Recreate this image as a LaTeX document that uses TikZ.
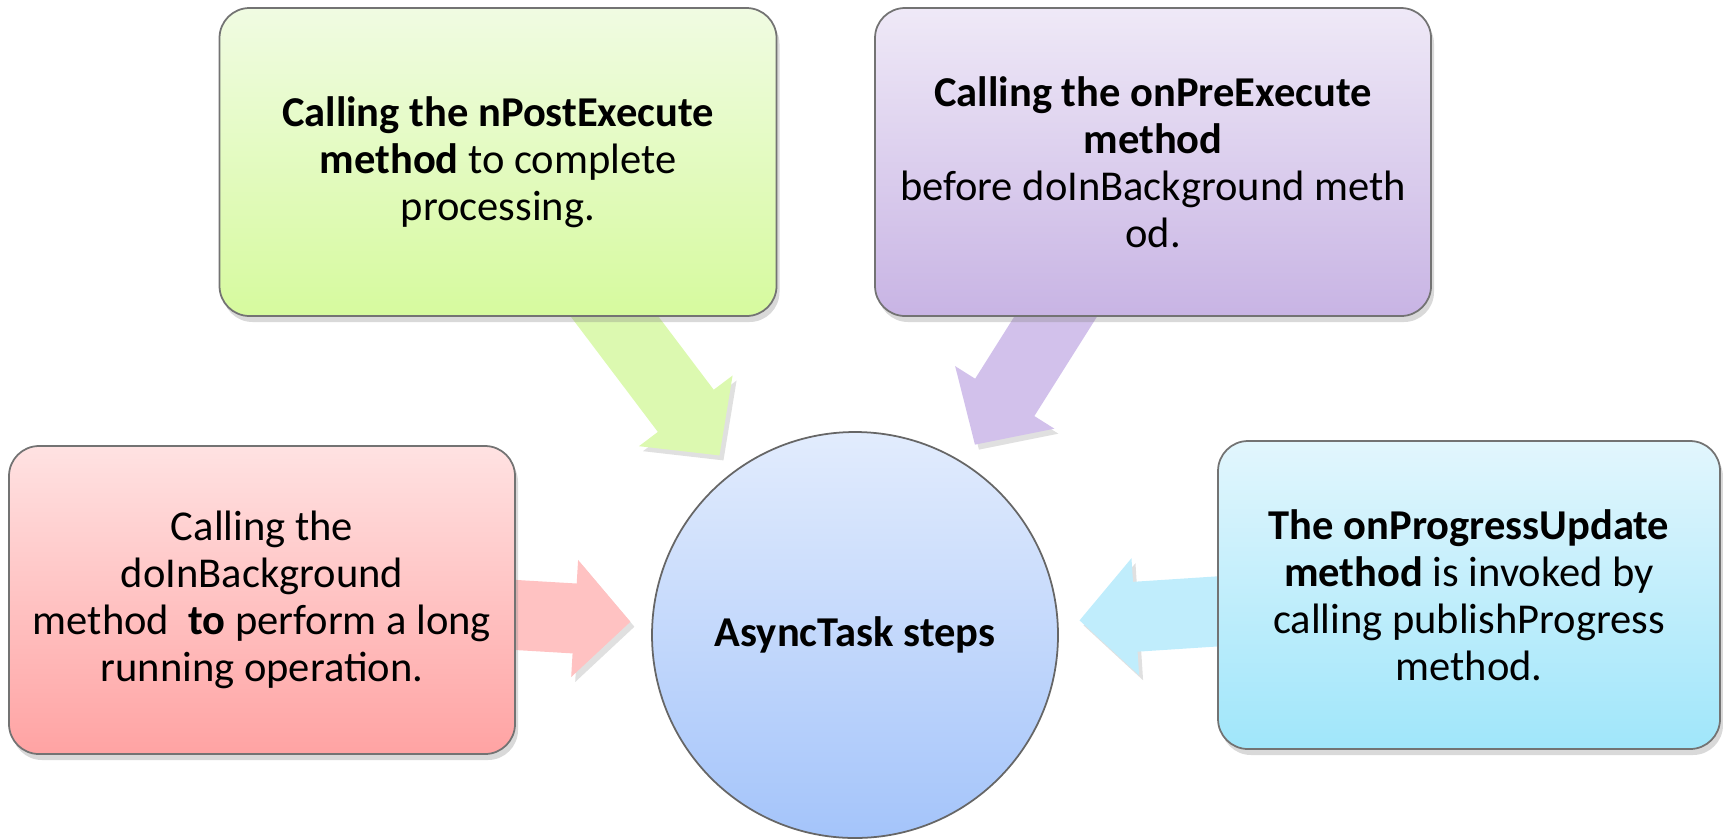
\documentclass[tikz,border=0pt]{standalone}
\usepackage{fontspec}
\setmainfont{Carlito}
\usetikzlibrary{arrows.meta,shadows,backgrounds}

\definecolor{greentop}{RGB}{240,251,226}
\definecolor{greenbot}{RGB}{214,250,158}
\definecolor{greenarr}{RGB}{220,249,176}
\definecolor{purpletop}{RGB}{239,233,247}
\definecolor{purplebot}{RGB}{200,180,228}
\definecolor{purplearr}{RGB}{210,193,235}
\definecolor{redtop}{RGB}{255,226,226}
\definecolor{redbot}{RGB}{255,163,163}
\definecolor{redarr}{RGB}{255,194,194}
\definecolor{cyantop}{RGB}{226,246,253}
\definecolor{cyanbot}{RGB}{160,230,250}
\definecolor{cyanarr}{RGB}{192,237,252}
\definecolor{coretop}{RGB}{226,236,253}
\definecolor{corebot}{RGB}{164,196,250}

\tikzset{
  stepbox/.style={draw=black!55, line width=0.5pt, rounded corners=3mm,
    align=center, inner sep=0pt, minimum height=30.8mm,
    font=\fontsize{12.1}{13.4}\selectfont,
    drop shadow={shadow xshift=0.3mm, shadow yshift=-0.6mm, opacity=0.3}},
  corenode/.style={circle, draw=black!60, line width=0.5pt, inner sep=0pt,
    minimum size=40.6mm, top color=coretop, bottom color=corebot,
    font=\fontsize{12.1}{13.4}\selectfont\bfseries},
  fatarrow/.style={draw=#1, line width=7mm, shorten <=-6mm, shorten >=2.1mm,
    -{Triangle[length=5.6mm, width=11.4mm]},
    preaction={draw=black, opacity=0.12, transform canvas={xshift=0.4mm, yshift=-0.5mm}}},
}

\begin{document}
\begin{tikzpicture}[x=0.1mm, y=-0.1mm]
    \useasboundingbox (0,0) rectangle (1723,839);
        \node[corenode] (core) at (855,635) {AsyncTask steps};
        \node[stepbox, minimum width=55.7mm, top color=greentop, bottom color=greenbot] (post) at (498,162)
            {\textbf{Calling the nPostExecute}\\\textbf{method} to complete\\processing.};
        \node[stepbox, minimum width=55.6mm, top color=purpletop, bottom color=purplebot] (pre) at (1153,162)
            {\textbf{Calling the onPreExecute}\\\textbf{method}\\before doInBackground meth\\od.};
        \node[stepbox, minimum width=50.6mm, top color=redtop, bottom color=redbot] (back) at (262,600)
            {Calling the\\doInBackground\\method~ \textbf{to} perform a long\\running operation.};
        \node[stepbox, minimum width=50.2mm, top color=cyantop, bottom color=cyanbot] (prog) at (1469,595)
            {\textbf{The onProgressUpdate}\\\textbf{method} is invoked by\\calling publishProgress\\method.};
    \begin{scope}[on background layer]
        \draw[fatarrow=greenarr] (post) to (core);
        \draw[fatarrow=purplearr] (pre) to (core);
        \draw[fatarrow=redarr] (back) to (core);
        \draw[fatarrow=cyanarr] (prog) to (core);
    \end{scope}
\end{tikzpicture}
\end{document}
